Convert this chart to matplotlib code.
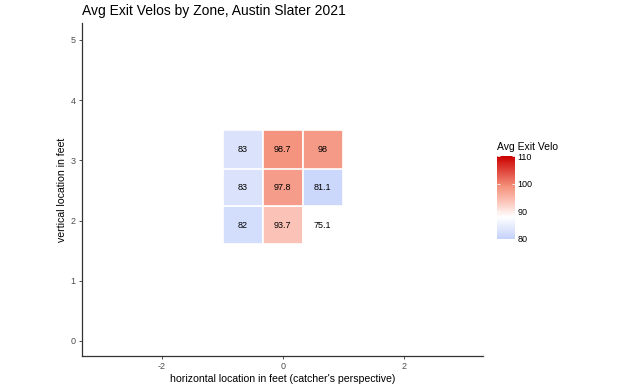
import matplotlib
matplotlib.use("Agg")
import matplotlib.pyplot as plt
import numpy as np
from matplotlib.colors import LinearSegmentedColormap, Normalize

plt.rcParams['font.family'] = ['Liberation Sans', 'DejaVu Sans']
plt.rcParams['axes.unicode_minus'] = False

# zone centers (feet) and average exit velocity per zone
zone_x = [-0.66, 0.0, 0.66]
zone_y = [1.92, 2.55, 3.18]
zone_w = 0.66
zone_h = 0.633
# rows bottom -> top, columns left -> right
exit_velo = [
    [82.0, 93.7, 75.1],
    [83.0, 97.8, 81.1],
    [83.0, 98.7, 98.0],
]
velo_labels = [
    ["82", "93.7", "75.1"],
    ["83", "97.8", "81.1"],
    ["83", "98.7", "98"],
]
x_ticks = [-2, 0, 2]
y_ticks = [0, 1, 2, 3, 4, 5]
cbar_ticks = [80, 90, 100, 110]

vmin, vmid, vmax = 80, 88, 110
cmap = LinearSegmentedColormap.from_list(
    "velo",
    [(0.0, "#c4d1fb"),
     ((vmid - vmin) / (vmax - vmin), "#ffffff"),
     ((94 - vmin) / (vmax - vmin), "#fbbfb3"),
     ((99 - vmin) / (vmax - vmin), "#f4917c"),
     (1.0, "#cc0000")])
cmap.set_under("white")
norm = Normalize(vmin=vmin, vmax=vmax)

fig = plt.figure(figsize=(6.24, 3.89), dpi=100)
ax = fig.add_axes([82 / 624, 33 / 389, 401 / 624, 333 / 389])

for i, yc in enumerate(zone_y):
    for j, xc in enumerate(zone_x):
        v = exit_velo[i][j]
        ax.add_patch(plt.Rectangle((xc - zone_w / 2, yc - zone_h / 2), zone_w, zone_h,
                                   facecolor=cmap(norm(v)), edgecolor="white", linewidth=1.2))
        ax.text(xc, yc, velo_labels[i][j], ha="center", va="center", fontsize=6.5, color="black")

ax.set_xlim(-3.32, 3.31)
ax.set_ylim(-0.25, 5.28)
ax.set_xticks(x_ticks)
ax.set_yticks(y_ticks)
ax.tick_params(labelsize=6.5, labelcolor="#4d4d4d", color="#333333", length=2.5, width=0.6, pad=2)
for side in ["top", "right"]:
    ax.spines[side].set_visible(False)
for side in ["left", "bottom"]:
    ax.spines[side].set_color("#333333")
    ax.spines[side].set_linewidth(0.9)

ax.set_xlabel("horizontal location in feet (catcher's perspective)", fontsize=7.6, labelpad=2)
ax.set_ylabel("vertical location in feet", fontsize=7.6, labelpad=3)
fig.text(82 / 624, 1 - 11 / 389, "Avg Exit Velos by Zone, Austin Slater 2021",
         fontsize=10, ha="left", va="center")

cax = fig.add_axes([497 / 624, 150 / 389, 18 / 624, 83 / 389])
sm = matplotlib.cm.ScalarMappable(norm=norm, cmap=cmap)
cb = fig.colorbar(sm, cax=cax, ticks=cbar_ticks)
cb.outline.set_visible(False)
cax.tick_params(labelsize=6.5, color="white", direction="in", length=2.5, width=0.6, pad=2)
cax.yaxis.set_ticks_position("both")
cax.yaxis.set_label_position("right")
fig.text(497 / 624, 1 - 147 / 389, "Avg Exit Velo", fontsize=7.5, ha="left", va="center")

fig.savefig("out.png", dpi=100)
